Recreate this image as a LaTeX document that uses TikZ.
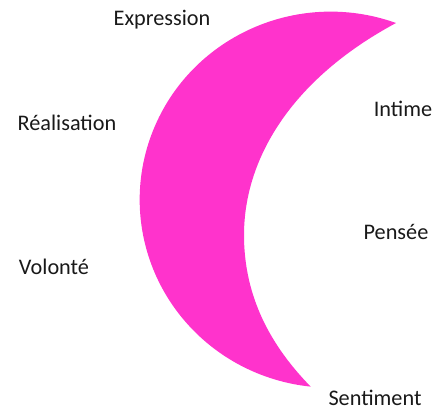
\documentclass[tikz,border=0pt]{standalone}
\usepackage{fontspec}
\setmainfont{Carlito}
\usepackage{tikz}
\usetikzlibrary{positioning}
\definecolor{mooncolor}{RGB}{255, 51, 204}

\begin{document}
\begin{tikzpicture}[
    x=0.03cm, y=-0.03cm,
    word/.style={inner sep=0pt, font=\fontsize{19}{22}\selectfont, text=black!90},
]
    \useasboundingbox (0,0) rectangle (445,416);

    % Crescent
    \coordinate (toptip) at (396,23);
    \coordinate (bottip) at (310,392);
    \fill[mooncolor] (toptip)
        arc[start angle=-70, end angle=-264, x radius=191, y radius=188]
        .. controls (265,340) and (244,290) .. (244,235)
        .. controls (244,160) and (290,80) .. (toptip) -- cycle;

    % Left side
    \node[word] (expr) at (162,20) {Expression};
    \node[word] (real) at (67,123) {Réalisation};
    \node[word] (vol) at (54,267) {Volonté};

    % Right side
    \node[word] (intime) at (403,109) {Intime};
    \node[word] (pensee) at (396,232) {Pensée};
    \node[word] (sent) at (375,398) {Sentiment};

\end{tikzpicture}
\end{document}
